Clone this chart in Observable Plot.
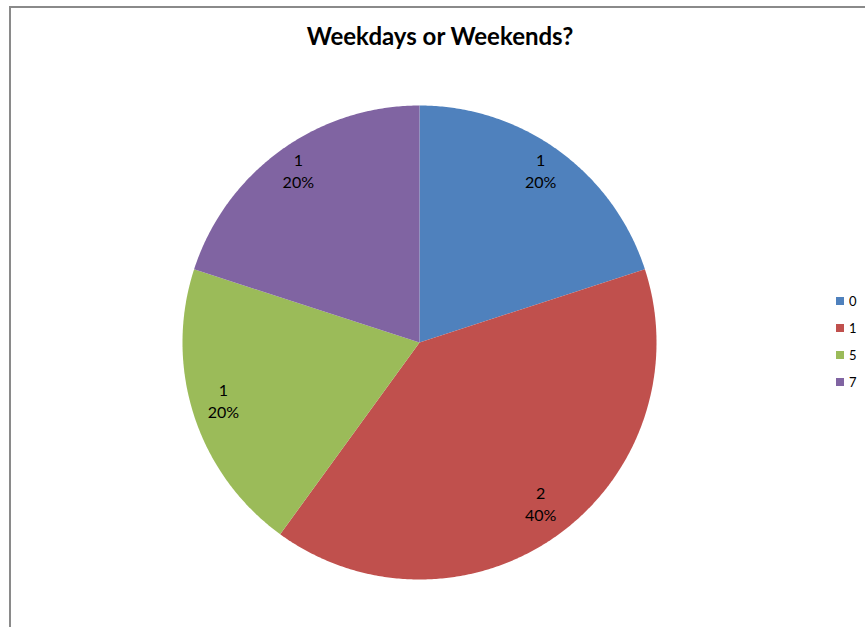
<!DOCTYPE html>
<html>
<head>
<meta charset="utf-8">
<script src="https://cdn.jsdelivr.net/npm/d3@7"></script>
<script src="https://cdn.jsdelivr.net/npm/@observablehq/plot@0.6"></script>
<style>
  body { margin: 0; background: #fff; }
  #wrap { position: relative; width: 865px; height: 627px; overflow: hidden; font-family: Lato, "Open Sans", sans-serif; }
  #frame { position: absolute; left: 9px; top: 6px; width: 900px; height: 700px; border-left: 2px solid #8a8a8a; border-top: 2px solid #8a8a8a; }
  #title { position: absolute; left: 0; width: 880px; top: 21px; text-align: center; font-weight: bold; font-size: 24px; color: #000; }
  #chart { position: absolute; left: 0; top: 0; }
  #legend { position: absolute; left: 836px; top: 292px; font-size: 13px; color: #000; }
  .row { display: flex; align-items: center; height: 18px; margin-bottom: 9px; }
  .sw { width: 8px; height: 8px; margin-right: 5px; }
</style>
</head>
<body>
<div id="wrap">
  <div id="frame"></div>
  <div id="chart"></div>
  <div id="title">Weekdays or Weekends?</div>
  <div id="legend"></div>
</div>
<script>
const categories = ["0", "1", "5", "7"];
const counts = [1, 2, 1, 1];
const colors = ["#4F81BD", "#C0504D", "#9BBB59", "#8064A2"];

const total = d3.sum(counts);
const slices = [];
let cum = 0;
categories.forEach((c, i) => {
  const a0 = cum / total * 2 * Math.PI;
  cum += counts[i];
  const a1 = cum / total * 2 * Math.PI;
  slices.push({cat: c, value: counts[i], pct: Math.round(counts[i] / total * 100) + "%", a0, a1});
});

// polygon outlines for each slice (angle measured clockwise from north)
const outline = [];
slices.forEach(s => {
  outline.push({cat: s.cat, x: 0, y: 0});
  const n = Math.max(2, Math.ceil((s.a1 - s.a0) / (Math.PI / 360)));
  for (let k = 0; k <= n; k++) {
    const a = s.a0 + (s.a1 - s.a0) * k / n;
    outline.push({cat: s.cat, x: Math.sin(a), y: Math.cos(a)});
  }
  outline.push({cat: s.cat, x: 0, y: 0});
});

const labels = slices.map(s => {
  const m = (s.a0 + s.a1) / 2;
  return {cat: s.cat, x: 0.87 * Math.sin(m), y: 0.87 * Math.cos(m), text: s.value + "\n" + s.pct};
});

const plot = Plot.plot({
  width: 865,
  height: 627,
  marginLeft: 182,
  marginRight: 209,
  marginTop: 105,
  marginBottom: 48,
  x: {domain: [-1, 1], axis: null},
  y: {domain: [-1, 1], axis: null},
  color: {domain: categories, range: colors},
  style: {background: "transparent", fontFamily: "Lato, 'Open Sans', sans-serif"},
  marks: [
    Plot.line(outline, {x: "x", y: "y", z: "cat", fill: "cat", stroke: "none", curve: "linear"}),
    Plot.text(labels, {x: "x", y: "y", text: "text", fontSize: 16, lineHeight: 1.38, dy: -6, fill: "#000"})
  ]
});
document.getElementById("chart").appendChild(plot);

const leg = document.getElementById("legend");
categories.forEach((c, i) => {
  const row = document.createElement("div");
  row.className = "row";
  row.innerHTML = `<div class="sw" style="background:${colors[i]}"></div><span>${c}</span>`;
  leg.appendChild(row);
});
</script>
</body>
</html>
